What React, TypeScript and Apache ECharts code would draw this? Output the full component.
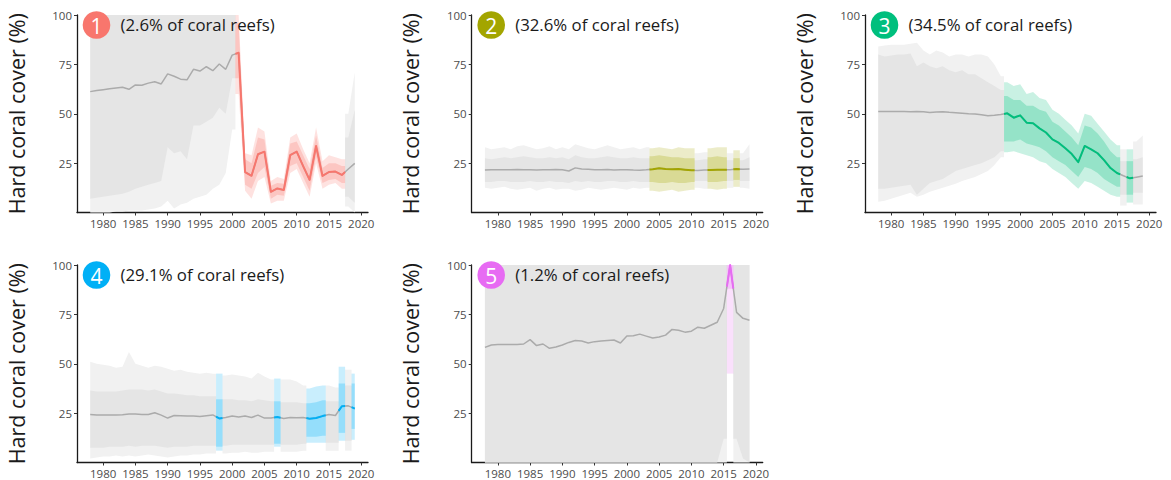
import React, { useEffect, useRef } from 'react';
import * as echarts from 'echarts';

// ---------- data ----------
const years = [1978, 1979, 1980, 1981, 1982, 1983, 1984, 1985, 1986, 1987,
  1988, 1989, 1990, 1991, 1992, 1993, 1994, 1995, 1996, 1997,
  1998, 1999, 2000, 2001, 2002, 2003, 2004, 2005, 2006, 2007,
  2008, 2009, 2010, 2011, 2012, 2013, 2014, 2015, 2016, 2017,
  2018, 2019];
const xTickYears = [1980, 1985, 1990, 1995, 2000, 2005, 2010, 2015, 2020];
const yTicks = [25, 50, 75, 100];

const panelNumbers = ['1', '2', '3', '4', '5'];
const panelShares = ['(2.6% of coral reefs)', '(32.6% of coral reefs)', '(34.5% of coral reefs)', '(29.1% of coral reefs)', '(1.2% of coral reefs)'];
const panelColors = ['#F8766D', '#A3A500', '#00BF7D', '#00B0F6', '#E76BF3'];

// Panel 1
const p1Mid = [61.2, 61.8, 62.2, 62.6, 63.0, 63.4, 62.4, 64.6, 64.4, 65.5,
  66.2, 65.1, 70.2, 69.0, 67.5, 67.2, 72.5, 71.6, 73.8, 71.8,
  75.2, 72.5, 79.7, 80.9, 20.5, 18.6, 29.5, 30.8, 10.5, 12.2,
  11.4, 29.1, 30.8, 23.5, 16.5, 33.7, 18.5, 20.5, 20.7, 19.0,
  22.0, 24.9];
const p1Hi95 = [100, 100, 100, 100, 100, 100, 100, 100, 100, 100,
  100, 100, 100, 100, 100, 100, 100, 100, 100, 100,
  100, 100, 100, 100, 30, 29, 43, 41, 16, 18,
  17, 38, 40, 32, 25, 43, 26, 29, 28, 27,
  50, 71];
const p1Lo95 = [0, 0, 0, 0, 0.5, 0.5, 1, 1, 1, 1.5,
  2, 3, 6, 2, 4, 5, 7, 8, 9, 12,
  14, 20, 42, 60, 11, 7, 16, 18, 4.5, 6,
  6, 20, 22, 15, 8, 25, 12, 14, 15, 12,
  3, 0];
const p1Hi80 = [100, 100, 100, 100, 100, 100, 100, 100, 100, 100,
  100, 100, 100, 100, 100, 100, 100, 100, 100, 100,
  100, 100, 100, 96, 27, 25, 38, 37, 13.5, 15,
  14.5, 35, 36, 29, 22, 39, 22.5, 25, 25, 23.5,
  38, 52];
const p1Lo80 = [7, 7.5, 8, 8.5, 9, 9.5, 10.5, 12, 13, 14,
  15, 16, 33, 30, 31, 27, 44, 44, 46, 48,
  53, 50, 68, 68, 14, 12, 20, 23, 7, 9,
  8.5, 23.5, 25, 18, 11, 28.5, 15, 16.5, 17, 15,
  8, 5];
const p1Observed = [2001, 2002, 2003, 2004, 2005, 2006, 2007, 2008, 2009, 2010, 2011, 2012, 2013, 2014, 2015, 2016, 2017];

// Panel 2
const p2Mid = [21.5, 21.6, 21.7, 21.6, 21.7, 21.8, 21.7, 21.6, 21.5, 21.6,
  21.7, 21.8, 21.6, 21.0, 22.6, 22.0, 21.9, 21.7, 21.6, 21.8,
  21.5, 21.6, 21.7, 21.5, 21.4, 21.6, 21.9, 22.4, 22.0, 21.9,
  22.0, 21.7, 21.4, 21.3, 21.5, 21.5, 21.6, 21.7, 21.7, 22.0,
  21.9, 22.0];
const p2Hi95 = [33, 32, 32.5, 33, 32, 33.5, 34, 33, 32, 32.5,
  33.5, 32, 33, 32, 34.5, 33.5, 32.5, 32, 33, 34,
  33, 32, 32.5, 33, 32, 33, 32.5, 33, 32.5, 32,
  33, 32.5, 32.5, 30, 30.5, 32.5, 33, 33, 30, 31.5,
  30, 34.5];
const p2Lo95 = [12.5, 12, 12.5, 13, 12, 11.5, 12, 12.5, 11, 12,
  12.5, 11.5, 12, 12, 11, 11.5, 12.5, 12, 11.5, 12,
  12.5, 12, 11.5, 12.5, 12, 12.5, 11, 10.5, 11, 11.5,
  10.5, 11, 11.5, 12.5, 12, 12, 11.5, 12, 12.5, 13,
  12.5, 12];
const p2Hi80 = [27.5, 27, 27.5, 28, 27.5, 28, 28.5, 28, 27.5, 27.5,
  28, 27.5, 28, 27, 29, 28, 27.5, 27.5, 28, 28.5,
  28, 27.5, 27.5, 28, 27.5, 27.5, 28.5, 29, 28.5, 28,
  28, 27.5, 27.5, 26.5, 27, 28, 28.5, 28, 26.5, 27.5,
  26.5, 28];
const p2Lo80 = [15.5, 15.5, 16, 16, 15.5, 15.5, 15.5, 16, 15.5, 15.5,
  16, 15.5, 15.5, 15, 16, 15.5, 16, 15.5, 15.5, 16,
  16, 15.5, 15.5, 16, 15.5, 15.5, 15.5, 15, 15, 15.5,
  15, 15, 15.5, 16, 16, 15.5, 15.5, 16, 16, 16.5,
  16, 16];
const p2Observed = [2004, 2005, 2006, 2007, 2008, 2009, 2010, 2013, 2014, 2015, 2017];

// Panel 3
const p3Mid = [51.2, 51.2, 51.1, 51.2, 51.1, 51.0, 51.2, 51.0, 50.6, 50.9,
  51.0, 50.7, 50.5, 50.3, 50.0, 49.9, 49.5, 49.0, 49.2, 49.6,
  50.2, 48.0, 49.2, 45.5, 45.2, 42.6, 40.5, 37.0, 35.2, 32.5,
  29.6, 25.5, 33.7, 32.0, 30.0, 26.5, 22.5, 20.0, 18.6, 17.3,
  17.9, 18.5];
const p3Hi95 = [84, 84.5, 85, 85, 85, 85.5, 86, 82, 80, 82,
  81, 79, 80, 80, 79, 80, 80, 79, 75, 69,
  66, 64, 65, 60, 61, 58, 57, 52, 50, 47,
  44, 40, 50, 49, 45, 41, 37, 34, 32, 32,
  36, 39];
const p3Lo95 = [5.5, 6, 7, 8, 9, 10, 8, 9, 10.5, 11.5,
  12.5, 13.5, 14.5, 16, 17, 18, 19.5, 21, 24, 28,
  30.5, 31, 30, 29, 28, 26, 25, 22, 20, 18,
  15, 12, 16, 15, 13, 11, 9, 8, 3.5, 5,
  4, 4];
const p3Hi80 = [80, 79, 79.5, 80, 80, 80.5, 74, 76, 74, 73,
  74, 72, 71, 72, 70, 70, 68, 66, 64, 62,
  59, 57, 57, 54, 54, 52, 51, 46, 44, 41,
  38, 34, 44, 43, 40, 36, 31, 28, 26, 26,
  27, 28];
const p3Lo80 = [12, 12, 12.5, 13, 13.5, 14, 9, 12, 15, 16,
  17, 19, 21, 22, 23, 24, 25, 26.5, 28, 31,
  36, 36, 37, 35, 34, 33, 31, 28, 26, 24,
  21, 18, 23, 22, 20, 17, 15, 13, 9, 9,
  10, 10];
const p3Observed = [1998, 1999, 2000, 2001, 2002, 2003, 2004, 2005, 2006, 2007, 2008, 2009, 2010, 2011, 2012, 2013, 2014, 2015, 2017];

// Panel 4
const p4Mid = [24.3, 24.0, 24.0, 24.0, 24.0, 24.2, 24.5, 24.5, 24.3, 24.3,
  25.2, 24.0, 22.5, 23.8, 23.7, 23.5, 23.5, 23.3, 23.7, 24.1,
  22.3, 22.8, 23.5, 23.0, 23.5, 22.8, 24.0, 22.5, 22.5, 23.0,
  22.3, 22.8, 22.7, 22.8, 22.2, 22.5, 23.5, 24.3, 23.8, 28.5,
  28.7, 27.3];
const p4Hi95 = [51, 50, 49.5, 49, 48, 48.5, 56, 50, 49, 48,
  49, 48.5, 47.5, 46.5, 47, 46, 45.5, 45, 45.5, 45,
  45, 44, 44.5, 44, 43.5, 42.5, 45.5, 43.5, 42, 42.5,
  42, 42, 41, 39, 37.5, 38.5, 39, 39, 38, 48.5,
  47, 45];
const p4Lo95 = [2, 2.5, 3, 3, 3.5, 3, 3.5, 3, 3.5, 4,
  3.5, 3, 2.5, 3, 3.5, 3.5, 4, 4, 4.5, 4.5,
  6, 4.5, 5, 5, 5.5, 5, 5, 5.5, 5.5, 8,
  5.5, 5.5, 5.5, 6, 10, 10, 10, 6, 6, 11,
  6, 11.5];
const p4Hi80 = [36.5, 36, 36, 36, 36, 36.5, 37, 37, 37, 36.5,
  37, 36, 35, 35, 34.5, 34, 34, 33.5, 33.5, 33.5,
  32, 32, 32, 31.5, 31.5, 31, 32, 31.5, 31, 31,
  30.5, 30.5, 30.5, 30, 30, 30.5, 31.5, 31, 31, 40,
  39, 40];
const p4Lo80 = [7.5, 7.5, 7.5, 8, 8, 8, 8.5, 8, 8.5, 8.5,
  8.5, 8, 7.5, 8, 8, 8, 8.5, 8.5, 8.5, 8.5,
  8, 8.5, 9, 9, 9, 9, 9, 9, 9, 9.5,
  9, 9, 9, 9.5, 13, 13, 13.5, 10, 10, 15,
  11, 17];
const p4Observed = [1998, 2007, 2012, 2013, 2014, 2017, 2019];

// Panel 5
const p5Mid = [58.3, 59.5, 59.8, 59.8, 59.8, 59.8, 60.0, 62.2, 59.2, 60.0,
  57.8, 58.5, 59.5, 60.8, 61.8, 61.5, 60.5, 61.2, 61.5, 61.8,
  62.0, 60.5, 64.0, 64.2, 65.0, 64.0, 63.0, 63.5, 64.5, 67.4,
  67.0, 66.0, 66.5, 68.5, 68.0, 69.5, 71.0, 78.0, 100, 76.0,
  73.0, 72.0];
const p5Hi95 = [100, 100, 100, 100, 100, 100, 100, 100, 100, 100,
  100, 100, 100, 100, 100, 100, 100, 100, 100, 100,
  100, 100, 100, 100, 100, 100, 100, 100, 100, 100,
  100, 100, 100, 100, 100, 100, 100, 100, 100, 100,
  100, 100];
const p5Lo95 = [0, 0, 0, 0, 0, 0, 0, 0, 0, 0,
  0, 0, 0, 0, 0, 0, 0, 0, 0, 0,
  0, 0, 0, 0, 0, 0, 0, 0, 0, 0,
  0, 0, 0, 0, 0, 0, 0, 0, 45, 0,
  0, 0];
const p5Hi80 = [100, 100, 100, 100, 100, 100, 100, 100, 100, 100,
  100, 100, 100, 100, 100, 100, 100, 100, 100, 100,
  100, 100, 100, 100, 100, 100, 100, 100, 100, 100,
  100, 100, 100, 100, 100, 100, 100, 100, 100, 100,
  100, 100];
const p5Lo80 = [0, 0, 0, 0, 0, 0, 0, 0, 0, 0,
  0, 0, 0, 0, 0, 0, 0, 0, 0, 0,
  0, 0, 0, 0, 0, 0, 0, 0, 0, 0,
  0, 0, 0, 0, 0, 0, 0, 12, 88, 12,
  2, 0];
const p5Observed = [2016];

const panels = [
  { mid: p1Mid, lo95: p1Lo95, hi95: p1Hi95, lo80: p1Lo80, hi80: p1Hi80, obs: p1Observed },
  { mid: p2Mid, lo95: p2Lo95, hi95: p2Hi95, lo80: p2Lo80, hi80: p2Hi80, obs: p2Observed },
  { mid: p3Mid, lo95: p3Lo95, hi95: p3Hi95, lo80: p3Lo80, hi80: p3Hi80, obs: p3Observed },
  { mid: p4Mid, lo95: p4Lo95, hi95: p4Hi95, lo80: p4Lo80, hi80: p4Hi80, obs: p4Observed },
  { mid: p5Mid, lo95: p5Lo95, hi95: p5Hi95, lo80: p5Lo80, hi80: p5Hi80, obs: p5Observed },
];

// ---------- layout / style ----------
const GRID_LEFT = [77, 471.7, 865, 77, 471.7];
const GRID_TOP = [15, 15, 15, 265, 265];
const GRID_W = 291;
const GRID_H = 197.5;
const FONT = '"Open Sans", "Noto Sans", sans-serif';
const GRAY_OUTER = '#F1F1F1';
const GRAY_INNER = '#E5E5E5';
const GRAY_LINE = '#ABABAB';

function rgba(hex: string, a: number) {
  const n = parseInt(hex.slice(1), 16);
  return `rgba(${(n >> 16) & 255},${(n >> 8) & 255},${n & 255},${a})`;
}

type Run = { start: number; end: number; colored: boolean };
function runsOf(obs: number[]): Run[] {
  const res: Run[] = [];
  let cur: Run | null = null;
  years.forEach((y, i) => {
    const c = obs.includes(y);
    if (cur && cur.colored === c) cur.end = i;
    else { cur = { start: i, end: i, colored: c }; res.push(cur); }
  });
  return res;
}

function bandSeries(pi: number, colored: boolean) {
  const p = panels[pi];
  const rs = runsOf(p.obs).filter((r) => r.colored === colored);
  const color = panelColors[pi];
  return {
    type: 'custom',
    xAxisIndex: pi,
    yAxisIndex: pi,
    silent: true,
    z: colored ? 3 : 1,
    data: rs.map((r) => [years[r.start], p.mid[r.start]]),
    encode: { x: 0, y: 1 },
    renderItem: (params: any, api: any) => {
      const r = rs[params.dataIndex];
      const xs: number[] = [];
      const idx: number[] = [];
      if (r.start > 0) { xs.push(years[r.start] - 0.5); idx.push(r.start); }
      for (let i = r.start; i <= r.end; i++) { xs.push(years[i]); idx.push(i); }
      if (r.end < years.length - 1) { xs.push(years[r.end] + 0.5); idx.push(r.end); }
      const poly = (lo: number[], hi: number[]) => {
        const pts: number[][] = [];
        for (let k = 0; k < xs.length; k++) pts.push(api.coord([xs[k], hi[idx[k]]]));
        for (let k = xs.length - 1; k >= 0; k--) pts.push(api.coord([xs[k], lo[idx[k]]]));
        return pts;
      };
      return {
        type: 'group',
        children: [
          { type: 'polygon', shape: { points: poly(p.lo95, p.hi95) }, style: { fill: colored ? rgba(color, 0.21) : GRAY_OUTER } },
          { type: 'polygon', shape: { points: poly(p.lo80, p.hi80) }, style: { fill: colored ? rgba(color, 0.26) : GRAY_INNER } },
        ],
      };
    },
  };
}

function coloredLineSeries(pi: number) {
  const p = panels[pi];
  const rs = runsOf(p.obs).filter((r) => r.colored);
  const color = panelColors[pi];
  return {
    type: 'custom',
    xAxisIndex: pi,
    yAxisIndex: pi,
    silent: true,
    z: 5,
    data: rs.map((r) => [years[r.start], p.mid[r.start]]),
    encode: { x: 0, y: 1 },
    renderItem: (params: any, api: any) => {
      const r = rs[params.dataIndex];
      const pts: number[][] = [];
      if (r.start > 0) {
        const a = api.coord([years[r.start - 1], p.mid[r.start - 1]]);
        const b = api.coord([years[r.start], p.mid[r.start]]);
        pts.push([(a[0] + b[0]) / 2, (a[1] + b[1]) / 2]);
      }
      for (let i = r.start; i <= r.end; i++) pts.push(api.coord([years[i], p.mid[i]]));
      if (r.end < years.length - 1) {
        const a = api.coord([years[r.end], p.mid[r.end]]);
        const b = api.coord([years[r.end + 1], p.mid[r.end + 1]]);
        pts.push([(a[0] + b[0]) / 2, (a[1] + b[1]) / 2]);
      }
      return {
        type: 'polyline',
        shape: { points: pts },
        style: { stroke: color, lineWidth: 2, fill: null, lineJoin: 'round' },
      };
    },
  };
}

function buildOption() {
  const grids = panels.map((_, i) => ({ left: GRID_LEFT[i], top: GRID_TOP[i], width: GRID_W, height: GRID_H, containLabel: false }));
  const xAxes = panels.map((_, i) => ({
    type: 'value', gridIndex: i, min: 1975.95, max: 2021.05,
    splitLine: { show: false },
    axisLine: { show: true, lineStyle: { color: '#1a1a1a', width: 1.3 } },
    axisTick: { show: true, length: 3, customValues: xTickYears, lineStyle: { color: '#333', width: 1 } },
    axisLabel: { customValues: xTickYears, formatter: (v: number) => String(v), color: '#4d4d4d', fontSize: 11.5, fontFamily: FONT, margin: 5 },
  }));
  const yAxes = panels.map((_, i) => ({
    type: 'value', gridIndex: i, min: 0, max: 100, interval: 25,
    name: 'Hard coral cover (%)', nameLocation: 'middle', nameGap: 50,
    nameTextStyle: { fontSize: 21.5, color: '#1a1a1a', fontFamily: FONT },
    splitLine: { show: false },
    axisLine: { show: true, lineStyle: { color: '#1a1a1a', width: 1.3 } },
    axisTick: { show: true, length: 3, customValues: yTicks, lineStyle: { color: '#333', width: 1 } },
    axisLabel: { customValues: yTicks, color: '#4d4d4d', fontSize: 11.5, fontFamily: FONT, margin: 5 },
  }));
  const series: any[] = [];
  panels.forEach((p, i) => {
    series.push(bandSeries(i, false));
    series.push(bandSeries(i, true));
    series.push({
      type: 'line', xAxisIndex: i, yAxisIndex: i, silent: true, z: 4,
      data: years.map((y, k) => [y, p.mid[k]]),
      symbol: 'none', lineStyle: { color: GRAY_LINE, width: 1.5 },
    });
    series.push(coloredLineSeries(i));
  });
  const graphic: any[] = [];
  panels.forEach((_, i) => {
    const cx = GRID_LEFT[i] + 19.5;
    const cy = GRID_TOP[i] + 10;
    graphic.push({ type: 'circle', shape: { cx, cy, r: 13.8 }, style: { fill: panelColors[i] }, z: 100 });
    graphic.push({ type: 'text', x: cx, y: cy + 1, z: 101, style: { text: panelNumbers[i], fill: '#ffffff', fontSize: 21, fontFamily: FONT, align: 'center', verticalAlign: 'middle' } });
    graphic.push({ type: 'text', x: GRID_LEFT[i] + 43.5, y: cy - 1, z: 101, style: { text: panelShares[i], fill: '#1a1a1a', fontSize: 16.8, fontFamily: FONT, align: 'left', verticalAlign: 'middle' } });
  });
  return { animation: false, backgroundColor: '#ffffff', grid: grids, xAxis: xAxes, yAxis: yAxes, series, graphic };
}

export default function App() {
  const ref = useRef<HTMLDivElement>(null);
  useEffect(() => {
    if (!ref.current) return;
    const chart = echarts.init(ref.current, null, { renderer: 'svg' });
    chart.setOption(buildOption() as any);
    return () => chart.dispose();
  }, []);
  return <div ref={ref} style={{ position: 'absolute', left: 0, top: 0, width: 1171, height: 480 }} />;
}
